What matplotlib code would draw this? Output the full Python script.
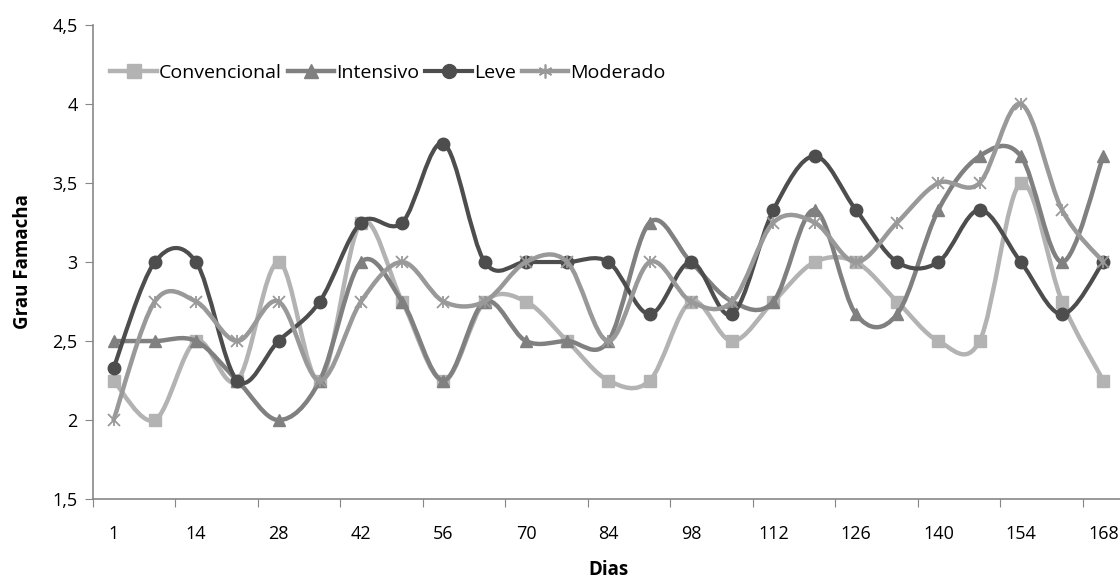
import matplotlib.pyplot as plt
import numpy as np
from matplotlib.path import Path
from matplotlib.patches import PathPatch
from matplotlib.lines import Line2D
from matplotlib.ticker import FuncFormatter, FixedLocator

plt.rcParams['font.family'] = ['Open Sans', 'DejaVu Sans']

dias = [1, 7, 14, 21, 28, 35, 42, 49, 56, 63, 70, 77, 84,
        91, 98, 105, 112, 119, 126, 133, 140, 147, 154, 161, 168]
tick_dias = [1, 14, 28, 42, 56, 70, 84, 98, 112, 126, 140, 154, 168]

convencional = [2.25, 2.0, 2.5, 2.25, 3.0, 2.25, 3.25, 2.75, 2.25, 2.75, 2.75, 2.5, 2.25,
                2.25, 2.75, 2.5, 2.75, 3.0, 3.0, 2.75, 2.5, 2.5, 3.5, 2.75, 2.25]
intensivo = [2.5, 2.5, 2.5, 2.25, 2.0, 2.25, 3.0, 2.75, 2.25, 2.75, 2.5, 2.5, 2.5,
             3.25, 3.0, 2.75, 2.75, 3.33, 2.67, 2.67, 3.33, 3.67, 3.67, 3.0, 3.67]
leve = [2.33, 3.0, 3.0, 2.25, 2.5, 2.75, 3.25, 3.25, 3.75, 3.0, 3.0, 3.0, 3.0,
        2.67, 3.0, 2.67, 3.33, 3.67, 3.33, 3.0, 3.0, 3.33, 3.0, 2.67, 3.0]
moderado = [2.0, 2.75, 2.75, 2.5, 2.75, 2.25, 2.75, 3.0, 2.75, 2.75, 3.0, 3.0, 2.5,
            3.0, 2.75, 2.75, 3.25, 3.25, 3.0, 3.25, 3.5, 3.5, 4.0, 3.33, 3.0]

series = [
    ("Convencional", convencional, "#b3b3b3", "s", 9, 3.2),
    ("Intensivo", intensivo, "#808080", "^", 9, 3.2),
    ("Leve", leve, "#4d4d4d", "o", 9, 3.0),
    ("Moderado", moderado, "#999999", "x", 8, 3.2),
]


def smooth_path(xs, ys):
    # Catmull-Rom as cubic Bezier segments (like Excel's smoothed line)
    pts = np.column_stack([xs, ys]).astype(float)
    n = len(pts)
    verts = [pts[0]]
    codes = [Path.MOVETO]
    for i in range(n - 1):
        p0 = pts[i - 1] if i > 0 else pts[i]
        p1 = pts[i]
        p2 = pts[i + 1]
        p3 = pts[i + 2] if i + 2 < n else pts[i + 1]
        c1 = p1 + (p2 - p0) / 6.0
        c2 = p2 - (p3 - p1) / 6.0
        verts += [c1, c2, p2]
        codes += [Path.CURVE4] * 3
    return Path(verts, codes)


fig = plt.figure(figsize=(11.2, 5.81), dpi=100)
ax = fig.add_axes([0.083, 0.141, 0.9205, 0.816])

x = np.arange(len(dias))
handles = []
for z, (name, vals, color, marker, ms, lw) in enumerate(series):
    patch = PathPatch(smooth_path(x, vals), facecolor="none", edgecolor=color,
                      linewidth=lw, zorder=2 + z, capstyle="round", joinstyle="round")
    ax.add_patch(patch)
    if marker == "x":
        ax.plot(x, vals, linestyle="none", marker="x", markersize=ms, color=color,
                markeredgewidth=1.3, zorder=2 + z)
        ax.plot(x, vals, linestyle="none", marker="|", markersize=ms, color=color,
                markeredgewidth=1.3, zorder=2 + z)
        h = Line2D([], [], color=color, lw=lw, marker=(6, 2, 0), markersize=ms + 2,
                   markeredgewidth=1.2)
    else:
        ax.plot(x, vals, linestyle="none", marker=marker, markersize=ms, color=color,
                markeredgecolor=color, zorder=2 + z)
        h = Line2D([], [], color=color, lw=lw, marker=marker, markersize=ms + 1)
    handles.append(h)

ax.set_xlim(-0.5, 24.5)
ax.set_ylim(1.5, 4.5)

ax.yaxis.set_major_locator(FixedLocator(np.arange(1.5, 4.51, 0.5)))
ax.yaxis.set_major_formatter(FuncFormatter(lambda v, p: f"{v:g}".replace(".", ",")))

label_pos = [dias.index(d) for d in tick_dias]
ax.set_xticks(np.arange(-0.5, 24, 2))
ax.set_xticklabels([])
ax.set_xticks(label_pos, minor=True)
ax.set_xticklabels([str(d) for d in tick_dias], minor=True)
ax.tick_params(axis="x", which="major", length=6, color="#878787", direction="out")
ax.tick_params(axis="x", which="minor", length=0, pad=19, labelsize=13)
ax.tick_params(axis="y", length=6, color="#878787", labelsize=13, pad=5)

for s in ("top", "right"):
    ax.spines[s].set_visible(False)
for s in ("left", "bottom"):
    ax.spines[s].set_color("#878787")
    ax.spines[s].set_linewidth(1.2)

ax.set_xlabel("Dias", fontsize=13.5, fontweight="bold", labelpad=12)
ax.set_ylabel("Grau Famacha", fontsize=13.5, fontweight="bold", labelpad=14)

ax.legend(handles, [s[0] for s in series], loc="upper left", ncol=4, frameon=False,
          fontsize=14, handlelength=2.4, handletextpad=0.1, columnspacing=0.3,
          bbox_to_anchor=(0.0, 0.955), borderaxespad=0.5)

fig.savefig("out.png", dpi=100)
